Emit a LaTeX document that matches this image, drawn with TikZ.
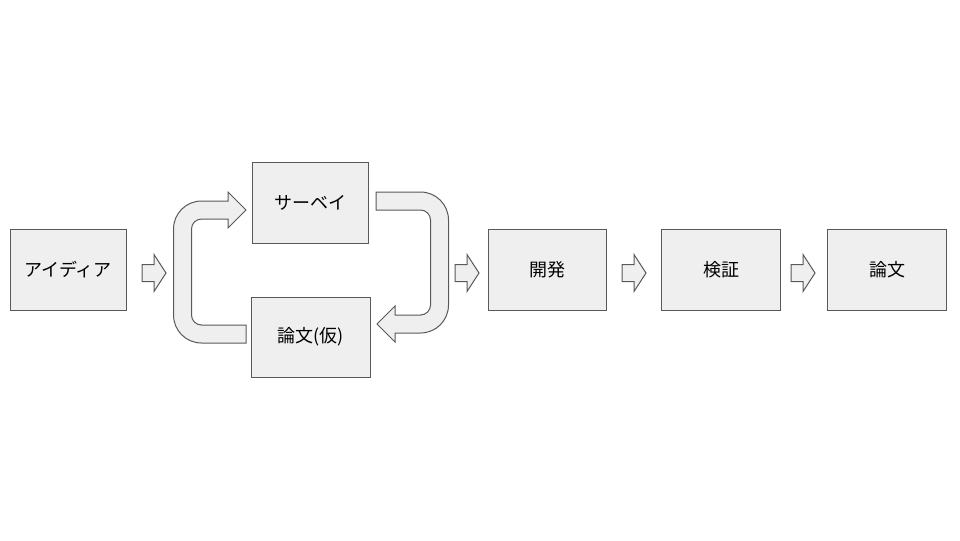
\documentclass[tikz,border=0pt]{standalone}
\usepackage{fontspec}
\setmainfont{Noto Sans CJK JP}
\usepackage{xcolor}
\definecolor{boxgray}{RGB}{239,239,239}
\definecolor{edgegray}{RGB}{89,89,89}
\tikzset{
  box/.style={draw=edgegray,fill=boxgray,line width=0.75pt,minimum width=88.5pt,minimum height=60.75pt,inner sep=0.75pt,font=\fontsize{13.5}{16}\selectfont},
  flow/.style={draw=edgegray,fill=boxgray,line width=0.75pt,line join=miter},
  fwd/.pic={\draw[flow] (0,-8.5) -- (12,-8.5) -- (12,-18.5) -- (24,0) -- (12,18.5) -- (12,8.5) -- (0,8.5) -- cycle;}
}
\begin{document}
\begin{tikzpicture}[x=0.75pt,y=0.75pt,yscale=-1,xscale=1]
\useasboundingbox (0,0) rectangle (960,540);

\node[box,minimum width=87pt] (idea) at (68,269.5) {アイディア};
\node[box,minimum width=87pt] (survey) at (310,202.5) {サーベイ};
\node[box,minimum width=89.25pt,minimum height=60pt] (draft) at (310.5,337) {論文(仮)};
\node[box] (dev) at (547.5,269.5) {開発};
\node[box,minimum width=89.25pt] (verify) at (721,269.5) {検証};
\node[box,minimum width=89.25pt] (paper) at (887,269.5) {論文};

\pic at (142,273) {fwd};
\pic at (455,273) {fwd};
\pic at (622,273) {fwd};
\pic at (791,273) {fwd};

% draft back to survey
\draw[flow] (246,343) -- (201.5,343) .. controls (186,343) and (173.5,330.5) .. (173.5,315) -- (173.5,229) .. controls (173.5,213.5) and (186,201) .. (201.5,201) -- (228,201) -- (228,192) -- (246,210) -- (228,228) -- (228,219) -- (201.5,219) .. controls (196,219) and (191.5,223.5) .. (191.5,229) -- (191.5,315) .. controls (191.5,320.5) and (196,325) .. (201.5,325) -- (246,325) -- cycle;
% survey on to draft
\draw[flow] (376,192) -- (420.5,192) .. controls (436,192) and (448.5,204.5) .. (448.5,220) -- (448.5,305) .. controls (448.5,320.5) and (436,333) .. (420.5,333) -- (395,333) -- (395,342) -- (377,324) -- (395,306) -- (395,315) -- (420.5,315) .. controls (426,315) and (430.5,310.5) .. (430.5,305) -- (430.5,220) .. controls (430.5,214.5) and (426,210) .. (420.5,210) -- (376,210) -- cycle;

\end{tikzpicture}
\end{document}
